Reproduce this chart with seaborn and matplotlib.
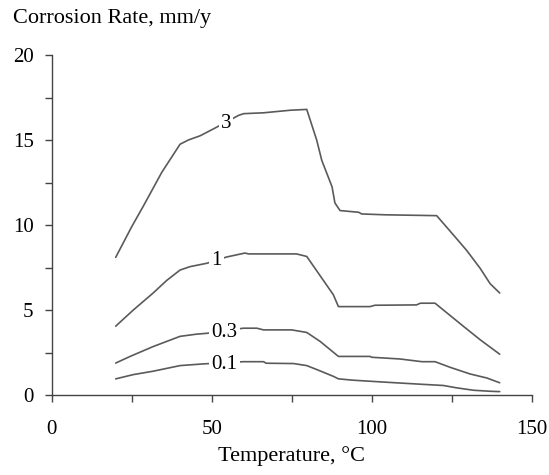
import matplotlib
matplotlib.use("Agg")
import matplotlib.pyplot as plt
import seaborn as sns
import pandas as pd
from matplotlib.ticker import MultipleLocator

# ---- data ----
x_3 = [20, 25, 28.6, 34.4, 40.1, 42.7, 46.4, 51, 58.4, 60, 66.2, 74.5, 79.7,
       82.8, 84.4, 87.6, 88.5, 90.1, 95.9, 96.9, 104.2, 120.3, 125.6, 129.7,
       133.9, 137, 140]
y_3 = [8.1, 9.9, 11.1, 13.1, 14.75, 15.0, 15.25, 15.7, 16.45, 16.55, 16.6,
       16.75, 16.8, 15.0, 13.8, 12.25, 11.3, 10.85, 10.75, 10.65, 10.6, 10.55,
       9.4, 8.5, 7.45, 6.55, 6.0]

x_1 = [20, 25.5, 31.7, 36, 40.1, 43.2, 48.5, 54.7, 60.4, 61.5, 76.5, 79.7, 88,
       89.6, 99.5, 101, 114, 115.2, 119.8, 122.4, 128.6, 133.9, 140]
y_1 = [4.05, 5.0, 6.0, 6.75, 7.35, 7.55, 7.75, 8.12, 8.35, 8.3, 8.3, 8.15, 5.9,
       5.2, 5.2, 5.28, 5.3, 5.4, 5.4, 5.0, 4.05, 3.25, 2.4]

x_03 = [20, 24.5, 31.7, 40.1, 45.3, 48.5, 59.9, 64.1, 66.2, 75, 79.7, 83.9,
        89.6, 99.5, 100, 108.8, 115.7, 119.8, 124.5, 130.7, 136, 140]
y_03 = [1.88, 2.27, 2.85, 3.45, 3.58, 3.63, 3.93, 3.93, 3.83, 3.83, 3.68, 3.15,
        2.27, 2.27, 2.22, 2.12, 1.96, 1.96, 1.63, 1.24, 1.0, 0.72]

x_01 = [20, 25.5, 31.7, 40.1, 47.4, 59.9, 66.2, 67, 75.6, 79.7, 82.8, 88, 89.6,
        94.3, 104.7, 115.7, 122.4, 126.6, 131.8, 137, 140]
y_01 = [0.95, 1.2, 1.4, 1.73, 1.83, 1.96, 1.96, 1.87, 1.85, 1.73, 1.5, 1.1,
        0.95, 0.87, 0.75, 0.63, 0.56, 0.42, 0.28, 0.22, 0.2]

series_names = ["3", "1", "0.3", "0.1"]
label_x = [54.5, 51.5, 54.0, 54.0]
label_y = [16.0, 7.9, 3.7, 1.8]

x_ticks = [0, 50, 100, 150]
y_ticks = [0, 5, 10, 15, 20]

# ---- build long-form table ----
frames = []
for name, xs, ys in zip(series_names, [x_3, x_1, x_03, x_01], [y_3, y_1, y_03, y_01]):
    frames.append(pd.DataFrame({"T": xs, "rate": ys, "series": name}))
df = pd.concat(frames, ignore_index=True)

sns.set_theme(style="white")
plt.rcParams["font.family"] = ["Liberation Serif", "DejaVu Serif"]

fig = plt.figure(figsize=(5.49, 4.75), dpi=100)
ax = fig.add_axes([0.0942, 0.1684, 0.8743, 0.7158])

line_color = "#5a5a5a"
sns.lineplot(data=df, x="T", y="rate", units="series", estimator=None, sort=False,
             color=line_color, linewidth=1.2, ax=ax, legend=False)

for name, lx, ly in zip(series_names, label_x, label_y):
    ax.text(lx, ly, name, fontsize=15, ha="center", va="center", color="black",
            bbox=dict(facecolor="white", edgecolor="none", pad=1.5), zorder=5)

ax.set_xlim(0, 150)
ax.set_ylim(0, 20)
ax.set_xticks(x_ticks)
ax.set_yticks(y_ticks)
ax.xaxis.set_minor_locator(MultipleLocator(25))
ax.yaxis.set_minor_locator(MultipleLocator(2.5))
ax.tick_params(axis="both", which="both", direction="out", length=5, width=1,
               color="#444444", labelsize=15, labelcolor="black")
ax.tick_params(axis="both", which="both", bottom=True, left=True)
ax.tick_params(axis="x", which="major", pad=13)
ax.tick_params(axis="y", which="major", pad=8)

for side in ["top", "right"]:
    ax.spines[side].set_visible(False)
for side in ["left", "bottom"]:
    ax.spines[side].set_color("#444444")
    ax.spines[side].set_linewidth(1.0)

ax.set_xlabel("Temperature, °C", fontsize=16, color="black", labelpad=5)
ax.set_ylabel("")
fig.text(0.024, 0.96, "Corrosion Rate, mm/y", fontsize=16, ha="left", va="center",
         color="black")

fig.savefig("out.png", dpi=100)
